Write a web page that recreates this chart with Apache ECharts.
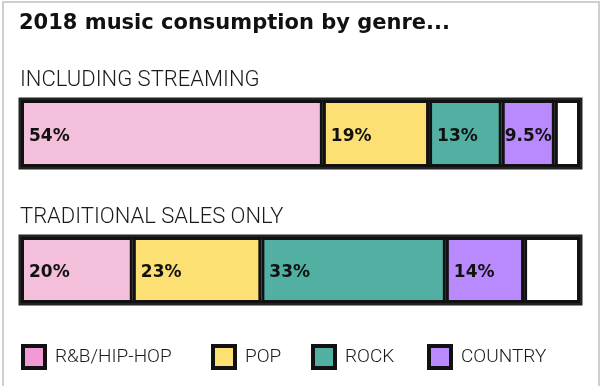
<!DOCTYPE html>
<html>
<head>
<meta charset="utf-8">
<script src="https://cdn.jsdelivr.net/npm/echarts@6/dist/echarts.min.js"></script>
<style>html,body{margin:0;padding:0;background:#fff;}#c{width:602px;height:386px;}</style>
</head>
<body>
<div id="c"></div>
<script>
const categories = ['R&B/HIP-HOP', 'POP', 'ROCK', 'COUNTRY', 'OTHER'];
const streaming = [54, 19, 13, 9.5, 4.5];
const traditional = [20, 23, 33, 14, 10];
const legendNames = ['R&B/HIP-HOP', 'POP', 'ROCK', 'COUNTRY'];
const titleText = '2018 music consumption by genre...';
const panelTitles = ['INCLUDING STREAMING', 'TRADITIONAL SALES ONLY'];

const barColors = ['#f3bfda', '#fde074', '#52b0a3', '#b98afd', '#ffffff'];
const legendColors = ['#f29ad6', '#fde074', '#52b0a3', '#b98afd'];
const legendLefts = [21, 211, 311, 427];

const chart = echarts.init(document.getElementById('c'), null, {renderer: 'canvas'});

function makeSeries(values, gi) {
  return categories.map((name, i) => ({
    name: name,
    type: 'bar',
    stack: 'g' + gi,
    xAxisIndex: gi,
    yAxisIndex: gi,
    barWidth: '100%',
    silent: true,
    itemStyle: {color: barColors[i], borderColor: '#111', borderWidth: 3},
    label: {
      show: name !== 'OTHER',
      position: 'insideLeft',
      distance: values[i] < 10 ? 3 : 8,
      offset: [0, 3],
      formatter: p => p.value + '%',
      fontFamily: 'DejaVu Sans',
      fontWeight: 'bold',
      fontSize: 17,
      color: '#111'
    },
    data: [values[i]]
  }));
}

const option = {
  animation: false,
  backgroundColor: '#fff',
  grid: [
    {left: 21, right: 22, top: 100, height: 67, show: true, borderColor: '#222', borderWidth: 5, backgroundColor: 'transparent'},
    {left: 21, right: 22, top: 237, height: 66, show: true, borderColor: '#222', borderWidth: 5, backgroundColor: 'transparent'}
  ],
  xAxis: [0, 1].map(i => ({type: 'value', gridIndex: i, min: 0, max: 100, show: false})),
  yAxis: [0, 1].map(i => ({type: 'category', gridIndex: i, data: ['x'], show: false})),
  legend: legendNames.map((n, i) => ({
    data: [{name: n, itemStyle: {color: legendColors[i], borderColor: '#111', borderWidth: 4}}],
    left: legendLefts[i],
    top: 344,
    padding: 0,
    icon: 'rect',
    itemWidth: 22,
    itemHeight: 22,
    selectedMode: false,
    textStyle: {fontFamily: 'Roboto', fontWeight: 300, fontSize: 19, color: '#1a1a1a', padding: [0, 0, 0, 5]}
  })),
  graphic: [
    {type: 'rect', shape: {x: 3, y: 2, width: 596, height: 420}, style: {fill: 'none', stroke: '#cfcfcf', lineWidth: 2}, silent: true, z: 0},
    {type: 'text', left: 19, top: 13, style: {text: titleText, fontFamily: 'DejaVu Sans', fontWeight: 'bold', fontSize: 21, fill: '#111'}},
    {type: 'text', left: 20, top: 69, style: {text: panelTitles[0], fontFamily: 'Roboto', fontWeight: 300, fontSize: 22, fill: '#1a1a1a'}},
    {type: 'text', left: 20, top: 206, style: {text: panelTitles[1], fontFamily: 'Roboto', fontWeight: 300, fontSize: 22, fill: '#1a1a1a'}}
  ],
  series: [...makeSeries(streaming, 0), ...makeSeries(traditional, 1)]
};
chart.setOption(option);
</script>
</body>
</html>
